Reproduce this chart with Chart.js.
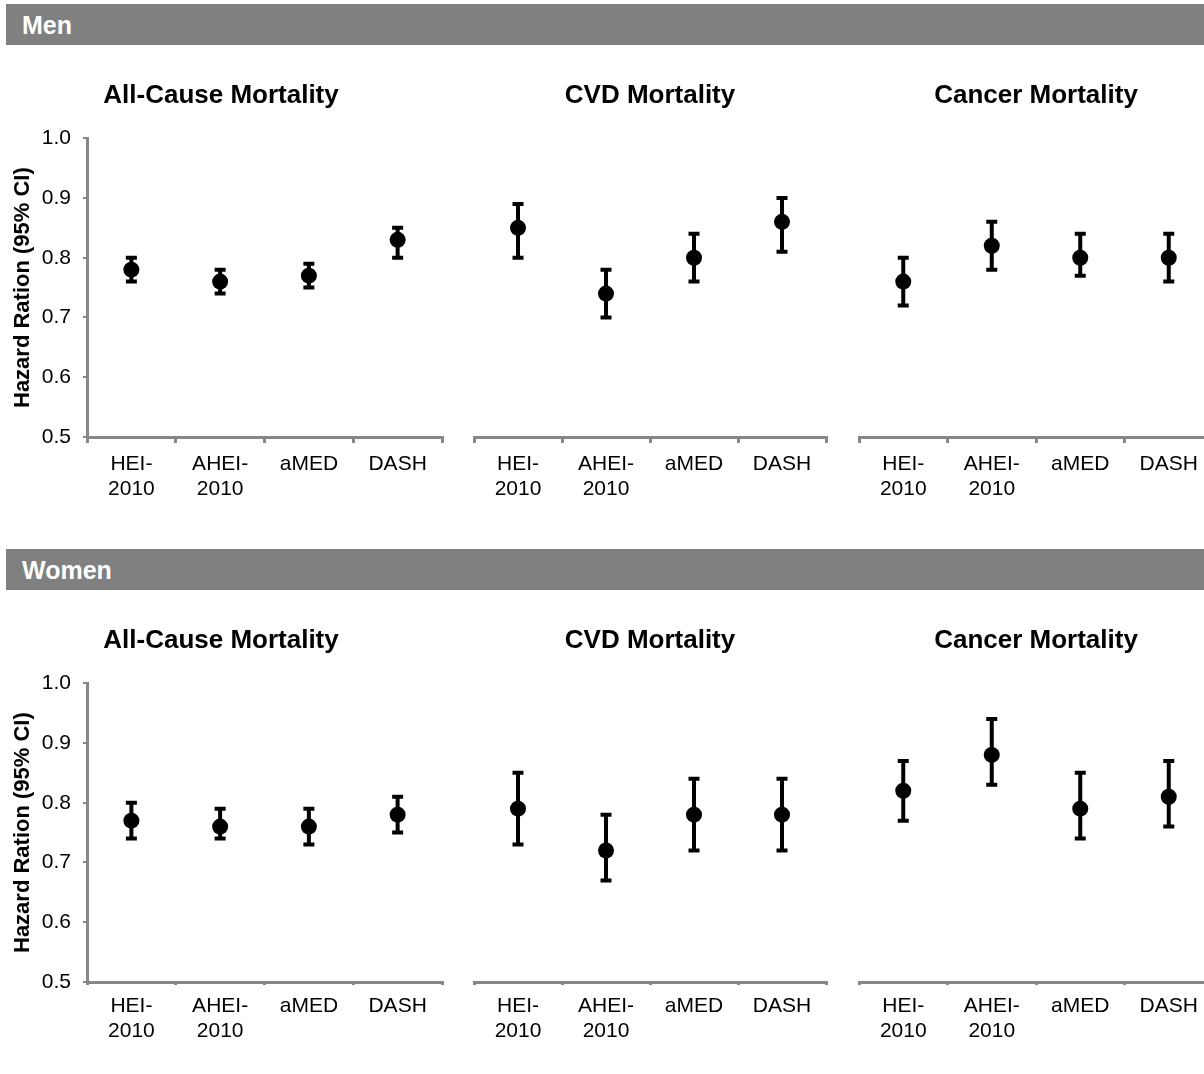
<!DOCTYPE html>
<html>
<head>
<meta charset="utf-8">
<title>Diet quality scores and mortality</title>
<script src="https://cdn.jsdelivr.net/npm/chart.js@4.4.0/dist/chart.umd.min.js"></script>
<style>
    body {
        margin: 0;
        width: 1204px;
        height: 1074px;
        overflow: hidden;
        position: relative;
        background: #fff;
        font-family: "Liberation Sans", Arial, sans-serif;
    }
    .section-bar {
        position: absolute;
        left: 6px;
        width: 1198px;
        height: 41px;
        line-height: 43px;
        padding-left: 16px;
        box-sizing: border-box;
        background: #808080;
        color: #fff;
        font-weight: bold;
        font-size: 25px;
    }
    canvas {
        position: absolute;
    }
</style>
</head>
<body>
<script>
const dietLabels = [['HEI-', '2010'], ['AHEI-', '2010'], 'aMED', 'DASH'];
const outcomeTitles = ['All-Cause Mortality', 'CVD Mortality', 'Cancer Mortality'];
const yTicks = [0.5, 0.6, 0.7, 0.8, 0.9, 1.0];

// Men: hazard ratio and 95% CI per diet score
const menAllCauseHR = [0.78, 0.76, 0.77, 0.83];
const menAllCauseLow = [0.76, 0.74, 0.75, 0.80];
const menAllCauseHigh = [0.80, 0.78, 0.79, 0.85];
const menCvdHR = [0.85, 0.74, 0.80, 0.86];
const menCvdLow = [0.80, 0.70, 0.76, 0.81];
const menCvdHigh = [0.89, 0.78, 0.84, 0.90];
const menCancerHR = [0.76, 0.82, 0.80, 0.80];
const menCancerLow = [0.72, 0.78, 0.77, 0.76];
const menCancerHigh = [0.80, 0.86, 0.84, 0.84];

// Women
const womenAllCauseHR = [0.77, 0.76, 0.76, 0.78];
const womenAllCauseLow = [0.74, 0.74, 0.73, 0.75];
const womenAllCauseHigh = [0.80, 0.79, 0.79, 0.81];
const womenCvdHR = [0.79, 0.72, 0.78, 0.78];
const womenCvdLow = [0.73, 0.67, 0.72, 0.72];
const womenCvdHigh = [0.85, 0.78, 0.84, 0.84];
const womenCancerHR = [0.82, 0.88, 0.79, 0.81];
const womenCancerLow = [0.77, 0.83, 0.74, 0.76];
const womenCancerHigh = [0.87, 0.94, 0.85, 0.87];

const AXIS_GRAY = '#878787';

Chart.defaults.font.family = '"Liberation Sans", Arial, sans-serif';
Chart.defaults.color = '#000';

const sections = [
    {
        name: 'Men', top: 0, tickLength: 6,
        panels: [
            [menAllCauseHR, menAllCauseLow, menAllCauseHigh],
            [menCvdHR, menCvdLow, menCvdHigh],
            [menCancerHR, menCancerLow, menCancerHigh]
        ]
    },
    {
        name: 'Women', top: 545, tickLength: 3,
        panels: [
            [womenAllCauseHR, womenAllCauseLow, womenAllCauseHigh],
            [womenCvdHR, womenCvdLow, womenCvdHigh],
            [womenCancerHR, womenCancerLow, womenCancerHigh]
        ]
    }
];

// where each of the three panels sits in a section
const panelBoxes = [
    { left: 0, width: 457, padLeft: 0, padRight: 15, showY: true },
    { left: 460, width: 380, padLeft: 14, padRight: 14, showY: false },
    { left: 845, width: 380, padLeft: 14, padRight: 12, showY: false }
];

// vertical CI whiskers with caps, drawn under the points
const errorBars = {
    id: 'errorBars',
    beforeDatasetsDraw(chart, args, opts) {
        const { ctx, scales: { x, y } } = chart;
        ctx.save();
        ctx.strokeStyle = '#000';
        ctx.lineWidth = 4;
        opts.low.forEach((lo, i) => {
            const px = x.getPixelForValue(i);
            const yLo = y.getPixelForValue(lo);
            const yHi = y.getPixelForValue(opts.high[i]);
            ctx.beginPath();
            ctx.moveTo(px, yLo);
            ctx.lineTo(px, yHi);
            ctx.moveTo(px - 5.5, yLo);
            ctx.lineTo(px + 5.5, yLo);
            ctx.moveTo(px - 5.5, yHi);
            ctx.lineTo(px + 5.5, yHi);
            ctx.stroke();
        });
        ctx.restore();
    }
};

function renderPanel(section, idx) {
    const box = panelBoxes[idx];
    const [hr, low, high] = section.panels[idx];

    const canvas = document.createElement('canvas');
    canvas.width = box.width;
    canvas.height = 440;
    canvas.style.left = box.left + 'px';
    canvas.style.top = (section.top + 70) + 'px';
    document.body.appendChild(canvas);

    new Chart(canvas.getContext('2d'), {
        type: 'line',
        data: {
            labels: dietLabels,
            datasets: [{
                data: hr,
                showLine: false,
                pointRadius: 8,
                pointHoverRadius: 8,
                pointBackgroundColor: '#000',
                pointBorderWidth: 0
            }]
        },
        options: {
            responsive: false,
            animation: false,
            events: [],
            layout: {
                padding: { left: box.padLeft, right: box.padRight, top: 0, bottom: 0 }
            },
            plugins: {
                legend: { display: false },
                tooltip: { enabled: false },
                title: {
                    display: true,
                    text: outcomeTitles[idx],
                    color: '#000',
                    font: { size: 26, weight: 'bold' },
                    padding: { top: 10, bottom: 27 }
                },
                errorBars: { low: low, high: high }
            },
            scales: {
                x: {
                    offset: true,
                    grid: {
                        offset: true,
                        drawOnChartArea: false,
                        tickLength: section.tickLength,
                        color: AXIS_GRAY,
                        lineWidth: 3
                    },
                    border: { display: true, color: AXIS_GRAY, width: 3 },
                    ticks: {
                        color: '#000',
                        padding: 8,
                        maxRotation: 0,
                        autoSkip: false,
                        font: { size: 21, lineHeight: 1.22 }
                    },
                    afterFit(scale) { scale.height = 73; }
                },
                y: {
                    display: box.showY,
                    min: yTicks[0],
                    max: yTicks[yTicks.length - 1],
                    grid: {
                        drawOnChartArea: false,
                        tickLength: 4,
                        color: AXIS_GRAY,
                        lineWidth: 2
                    },
                    border: { display: true, color: AXIS_GRAY, width: 3 },
                    ticks: {
                        stepSize: 0.1,
                        color: '#000',
                        padding: 12,
                        font: { size: 21 },
                        callback: value => Number(value).toFixed(1)
                    },
                    title: {
                        display: true,
                        text: 'Hazard Ration (95% CI)',
                        color: '#000',
                        font: { size: 22, weight: 'bold' },
                        padding: { top: 10, bottom: 0 }
                    },
                    afterFit(scale) {
                        if (box.showY) scale.width = 87;
                    }
                }
            }
        },
        plugins: [errorBars]
    });
}

function renderSection(section) {
    const bar = document.createElement('div');
    bar.className = 'section-bar';
    bar.style.top = (section.top + 4) + 'px';
    bar.textContent = section.name;
    document.body.appendChild(bar);

    for (let i = 0; i < section.panels.length; i++) {
        renderPanel(section, i);
    }
}

sections.forEach(renderSection);
</script>
</body>
</html>
